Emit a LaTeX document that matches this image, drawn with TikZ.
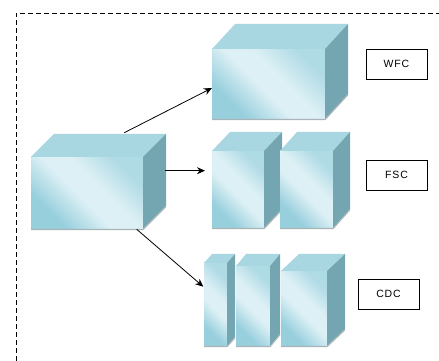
\documentclass[tikz,border=0pt]{standalone}
\usepackage{fontspec}
\setmainfont{Liberation Sans}
\newfontfamily\tagfont{Liberation Sans}[LetterSpace=8]
\usetikzlibrary{arrows.meta,calc}

\definecolor{boxlight}{HTML}{DDF0F5}
\definecolor{boxmid}{HTML}{97CFDD}
\definecolor{boxtop}{HTML}{A8D6E1}
\definecolor{boxside}{HTML}{73A6B0}
\definecolor{boxedge}{HTML}{A9B4B8}

% soft diagonal glare on the front faces
\pgfdeclarehorizontalshading{glare}{100bp}{color(0bp)=(boxmid); color(28bp)=(boxmid);
  color(46bp)=(boxlight); color(57bp)=(boxlight); color(74bp)=(boxmid!65!boxlight);
  color(100bp)=(boxmid!65!boxlight)}

% front face is a node, top and side are filled from its anchors
\newcommand\crate[6]{%
  \node[front, minimum width=#3, minimum height=#4] (#1) at #2 {};
  \fill[boxtop] (#1.north west) -- ++(#5,#6) -- ($(#1.north east)+(#5,#6)$) -- (#1.north east) -- cycle;
  \fill[boxside] (#1.south east) -- (#1.north east) -- ++(#5,#6) -- ($(#1.south east)+(#5,#6)$) -- cycle;
  \draw[boxedge, line width=1.2pt] ([yshift=-0.6]#1.south west) -- ([yshift=-0.6]#1.south east) -- ++(#5,#6);
}

\begin{document}
\begin{tikzpicture}[x=1pt, y=1pt,
  front/.style={inner sep=0pt, outer sep=0pt, shade, shading=glare, shading angle=45},
  tag/.style={draw, line width=0.7pt, minimum width=61, minimum height=30,
              inner sep=0pt, font=\tagfont\fontsize{10.5}{12}\selectfont},
  arr/.style={-{Stealth[length=8pt, width=7pt]}, line width=0.8pt}
]
  \useasboundingbox (0,0) rectangle (439,361);
  \draw[dash pattern=on 5pt off 3pt, line width=0.7pt] (16,0) -- (16,348) -- (439,348);

  % source block
  \crate{src}{(87,168)}{112}{72}{23}{23}
  % WFC
  \crate{wfc}{(268.5,277)}{113}{70}{23}{25}
  % FSC
  \crate{fscA}{(238,171.5)}{52}{77}{18}{19}
  \crate{fscB}{(306.5,171.5)}{53}{77}{17}{19}
  % CDC
  \crate{cdcA}{(215.5,56.5)}{23}{83}{8}{9}
  \crate{cdcB}{(253,55)}{34}{80}{10}{12}
  \crate{cdcC}{(304,52.5)}{46}{75}{18}{17}

  \node[tag] (wfclbl) at (396.5,297) {WFC};
  \node[tag] (fsclbl) at (396.5,186) {FSC};
  \node[tag] (cdclbl) at (388.5,67)  {CDC};

  \coordinate (srctop)  at (124.3,228.3);
  \coordinate (srcside) at (165,190.3);
  \coordinate (srcbot)  at (136.7,131.7);

  \draw[arr] (srctop)  -- ([yshift=-4]wfc.west);
  \draw[arr] (srcside) -- ([xshift=-7, yshift=18.8]fscA.west);
  \draw[arr] (srcbot)  -- ([xshift=-0.7, yshift=17.8]cdcA.west);
\end{tikzpicture}
\end{document}
